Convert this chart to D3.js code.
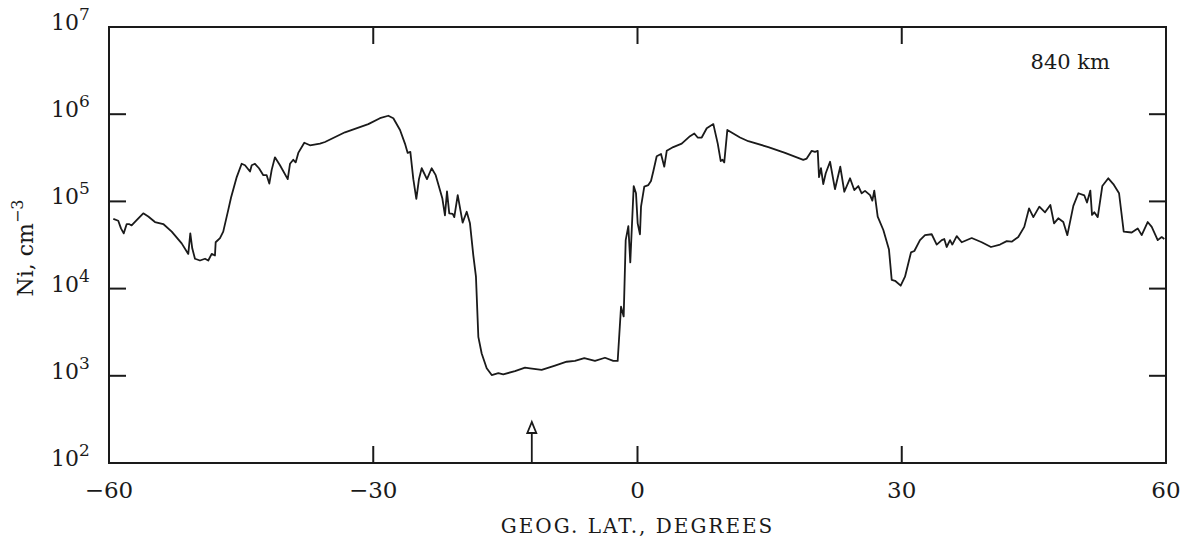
<!DOCTYPE html>
<html>
<head>
<meta charset="utf-8">
<script src="https://cdn.jsdelivr.net/npm/d3@7"></script>
<style>
  body { margin: 0; background: #fff; }
  svg { display: block; }
</style>
</head>
<body>
<div class="canvas"></div>
<script>
// latitude (deg) and ion density Ni (cm^-3)
const lat = [
  -59.51, -58.95, -58.64, -58.33, -57.99, -57.73, -57.43, -56.86, -56.11, -55.54,
  -54.78, -53.84, -52.88, -51.75, -51.0, -50.77, -50.55, -50.24, -49.67, -49.10,
  -48.73, -48.34, -47.97, -47.89, -47.40, -47.03, -46.46, -46.15, -45.50, -44.94,
  -44.56, -43.99, -43.80, -43.43, -42.97, -42.48, -42.10, -41.80, -41.53, -41.16,
  -40.59, -39.71, -39.45, -39.08, -38.81, -38.51, -37.83, -37.18, -36.05, -35.48,
  -33.21, -30.56, -29.24, -28.29, -27.72, -26.96, -26.40, -26.09, -25.79, -25.45,
  -25.11, -24.81, -24.50, -23.90, -23.37, -22.91, -22.16, -21.86, -21.63, -21.37,
  -20.98, -20.80, -20.41, -19.85, -19.39, -19.02, -18.64, -18.34, -18.07, -17.69,
  -17.12, -16.55, -15.80, -15.24, -13.91, -12.77, -12.20, -10.88, -9.37, -8.04,
  -7.10, -6.04, -4.83, -3.69, -2.75, -2.25, -1.87, -1.57, -1.34, -1.04,
  -0.82, -0.43, -0.17, 0.02, 0.28, 0.40, 0.77, 1.23, 1.53, 1.79,
  2.18, 2.67, 3.04, 3.32, 4.06, 5.02, 5.96, 6.45, 6.83, 7.29,
  7.86, 8.61, 9.11, 9.45, 9.65, 9.85, 10.20, 11.64, 12.58, 14.85,
  16.75, 18.82, 19.21, 19.78, 20.15, 20.46, 20.61, 20.83, 21.09, 21.37,
  21.86, 22.42, 23.02, 23.48, 24.13, 24.61, 25.07, 25.45, 25.83, 26.40,
  26.66, 26.88, 27.27, 27.91, 28.55, 28.86, 29.24, 29.88, 30.37, 31.05,
  31.43, 32.07, 32.64, 33.40, 33.97, 34.54, 34.83, 35.10, 35.48, 35.74,
  36.24, 36.81, 37.94, 39.08, 40.13, 41.16, 41.92, 42.48, 43.23, 43.91,
  44.45, 44.94, 45.62, 46.27, 46.87, 47.29, 47.77, 48.34, 48.80, 49.48,
  50.05, 50.73, 51.03, 51.41, 51.60, 51.86, 52.25, 52.77, 53.45, 54.02,
  54.67, 55.20, 56.11, 56.79, 57.24, 57.92, 58.38, 59.06, 59.51, 59.81
];
const ni = [
  6.3e4, 6.0e4, 4.9e4, 4.3e4, 5.5e4, 5.5e4, 5.3e4, 6.1e4, 7.3e4, 6.7e4,
  5.8e4, 5.5e4, 4.5e4, 3.3e4, 2.5e4, 4.3e4, 2.9e4, 2.2e4, 2.1e4, 2.2e4,
  2.1e4, 2.5e4, 2.4e4, 3.4e4, 3.8e4, 4.5e4, 8.0e4, 1.1e5, 1.9e5, 2.7e5,
  2.6e5, 2.2e5, 2.6e5, 2.7e5, 2.4e5, 2.0e5, 2.0e5, 1.6e5, 2.3e5, 3.2e5,
  2.6e5, 1.8e5, 2.7e5, 3.0e5, 2.8e5, 3.6e5, 4.7e5, 4.4e5, 4.6e5, 4.8e5,
  6.2e5, 7.7e5, 9.0e5, 9.6e5, 9.0e5, 6.6e5, 4.6e5, 3.6e5, 3.7e5, 1.8e5,
  1.07e5, 1.8e5, 2.4e5, 1.8e5, 2.4e5, 2.0e5, 1.09e5, 6.9e4, 1.3e5, 7.3e4,
  7.2e4, 6.6e4, 1.18e5, 5.7e4, 7.6e4, 5.6e4, 2.4e4, 1.37e4, 2.8e3, 1.8e3,
  1.22e3, 1.02e3, 1.07e3, 1.04e3, 1.13e3, 1.24e3, 1.22e3, 1.17e3, 1.31e3, 1.45e3,
  1.48e3, 1.59e3, 1.48e3, 1.61e3, 1.48e3, 1.48e3, 6.2e3, 4.8e3, 3.6e4, 5.2e4,
  2.0e4, 1.5e5, 1.24e5, 5.6e4, 4.2e4, 8.7e4, 1.48e5, 1.54e5, 1.71e5, 2.2e5,
  3.3e5, 3.5e5, 2.5e5, 3.8e5, 4.2e5, 4.6e5, 5.6e5, 6.0e5, 5.4e5, 5.4e5,
  6.9e5, 7.7e5, 4.6e5, 2.9e5, 3.0e5, 2.8e5, 6.6e5, 5.4e5, 4.9e5, 4.2e5,
  3.6e5, 3.0e5, 3.1e5, 3.8e5, 3.7e5, 3.8e5, 1.9e5, 2.4e5, 1.58e5, 2.1e5,
  2.85e5, 1.38e5, 2.5e5, 1.29e5, 1.84e5, 1.35e5, 1.5e5, 1.24e5, 1.32e5, 1.18e5,
  1.02e5, 1.33e5, 6.7e4, 4.7e4, 2.8e4, 1.26e4, 1.23e4, 1.08e4, 1.37e4, 2.6e4,
  2.7e4, 3.6e4, 4.1e4, 4.2e4, 3.2e4, 3.6e4, 3.7e4, 3.0e4, 3.6e4, 3.2e4,
  4.0e4, 3.4e4, 3.8e4, 3.4e4, 3.0e4, 3.2e4, 3.5e4, 3.45e4, 3.9e4, 5.1e4,
  8.3e4, 6.6e4, 8.7e4, 7.5e4, 9.1e4, 5.6e4, 6.4e4, 5.8e4, 4.1e4, 8.9e4,
  1.24e5, 1.17e5, 9.7e4, 1.33e5, 7.0e4, 7.5e4, 6.6e4, 1.5e5, 1.84e5, 1.58e5,
  1.24e5, 4.5e4, 4.4e4, 4.9e4, 4.1e4, 5.8e4, 5.1e4, 3.6e4, 3.9e4, 3.7e4
];
const xTicks = [-60, -30, 0, 30, 60];
const yExps = [2, 3, 4, 5, 6, 7];
const markerLat = -12;
const altitudeLabel = "840 km";
const xTitle = "GEOG. LAT., DEGREES";

const width = 1190, height = 541;
const margin = { top: 27, right: 24, bottom: 78, left: 109 };
const font = "'DejaVu Serif', 'Liberation Serif', serif";
const ink = '#1a1a1a';

const x = d3.scaleLinear().domain([-60, 60]).range([margin.left, width - margin.right]);
const y = d3.scaleLog().domain([1e2, 1e7]).range([height - margin.bottom, margin.top]);

const svg = d3.select('.canvas').append('svg')
  .attr('width', width)
  .attr('height', height)
  .style('font-family', font);

const x0 = x.range()[0], x1 = x.range()[1];
const y0 = y.range()[0], y1 = y.range()[1];
const tickLen = 17;

// frame
svg.append('rect')
  .attr('x', x0).attr('y', y1)
  .attr('width', x1 - x0).attr('height', y0 - y1)
  .attr('fill', 'none').attr('stroke', ink).attr('stroke-width', 2);

// inward ticks on all sides
const ticks = svg.append('g').attr('stroke', ink).attr('stroke-width', 2);
xTicks.slice(1, -1).forEach(t => {
  ticks.append('line').attr('x1', x(t)).attr('x2', x(t)).attr('y1', y0).attr('y2', y0 - tickLen);
  ticks.append('line').attr('x1', x(t)).attr('x2', x(t)).attr('y1', y1).attr('y2', y1 + tickLen);
});
yExps.slice(1, -1).forEach(e => {
  const v = Math.pow(10, e);
  ticks.append('line').attr('x1', x0).attr('x2', x0 + tickLen).attr('y1', y(v)).attr('y2', y(v));
  ticks.append('line').attr('x1', x1).attr('x2', x1 - tickLen).attr('y1', y(v)).attr('y2', y(v));
});

// x tick labels
svg.append('g').selectAll('text')
  .data(xTicks)
  .join('text')
  .attr('x', d => x(d))
  .attr('y', y0 + 35)
  .attr('text-anchor', 'middle')
  .attr('font-size', 23)
  .attr('fill', ink)
  .text(d => d < 0 ? '\u2212' + Math.abs(d) : d);

// y tick labels 10^n
const yl = svg.append('g').selectAll('text')
  .data(yExps)
  .join('text')
  .attr('x', 51)
  .attr('y', d => y(Math.pow(10, d)) + 3)
  .attr('font-size', 22)
  .attr('fill', ink);
yl.append('tspan').text('10');
yl.append('tspan').attr('dy', -10).attr('font-size', 17).text(d => d);

// y axis title
const yt = svg.append('text')
  .attr('transform', `translate(33,${(y0 + y1) / 2 + 3}) rotate(-90)`)
  .attr('text-anchor', 'middle')
  .attr('font-size', 22)
  .attr('fill', ink);
yt.append('tspan').text('Ni, cm');
yt.append('tspan').attr('dy', -10).attr('font-size', 16).text('\u22123');

// x axis title
svg.append('text')
  .attr('x', (x0 + x1) / 2)
  .attr('y', y0 + 70)
  .attr('text-anchor', 'middle')
  .attr('font-size', 20)
  .attr('letter-spacing', 2)
  .attr('fill', ink)
  .text(xTitle);

// altitude label
svg.append('text')
  .attr('x', x1 - 56)
  .attr('y', y1 + 42)
  .attr('text-anchor', 'end')
  .attr('font-size', 21)
  .attr('fill', ink)
  .text(altitudeLabel);

// density curve
const line = d3.line()
  .x(d => x(d[0]))
  .y(d => y(d[1]));
svg.append('path')
  .datum(d3.zip(lat, ni))
  .attr('d', line)
  .attr('fill', 'none')
  .attr('stroke', ink)
  .attr('stroke-width', 1.8)
  .attr('stroke-linejoin', 'round');

// open arrow marker
const ax = x(markerLat);
const arrow = svg.append('g').attr('stroke', ink).attr('stroke-width', 1.8).attr('fill', '#fff');
arrow.append('line').attr('x1', ax).attr('x2', ax).attr('y1', y0).attr('y2', y0 - 30);
arrow.append('path')
  .attr('d', `M${ax},${y0 - 41} L${ax - 4.5},${y0 - 30} L${ax + 4.5},${y0 - 30} Z`);
</script>
</body>
</html>
